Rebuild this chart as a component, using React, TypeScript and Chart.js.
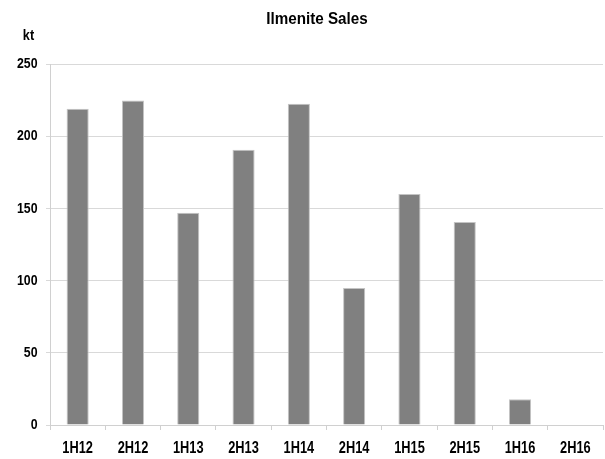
import React, { useEffect, useRef } from "react";
import { Chart, registerables } from "chart.js";

Chart.register(...registerables);

const categories = ["1H12", "2H12", "1H13", "2H13", "1H14", "2H14", "1H15", "2H15", "1H16", "2H16"];
const sales = [219, 224.7, 147, 190.7, 222.4, 94.8, 160, 140.6, 17.8, 0];
const yTicks = [0, 50, 100, 150, 200, 250];
const titleText = "Ilmenite Sales";
const unitText = "kt";

const FONT = "'Liberation Sans', Arial, sans-serif";

function condensed(ctx: any, text: string, x: number, y: number, size: number, sx: number, align: string, baseline: string) {
  ctx.save();
  ctx.translate(x, y);
  ctx.scale(sx, 1);
  ctx.font = `bold ${size}px ${FONT}`;
  ctx.textAlign = align;
  ctx.textBaseline = baseline;
  ctx.fillStyle = "#000";
  ctx.fillText(text, 0, 0);
  ctx.restore();
}

const textPlugin = {
  id: "customText",
  afterDraw(chart: any) {
    const ctx = chart.ctx;
    const xs = chart.scales.x;
    const ys = chart.scales.y;
    condensed(ctx, titleText, 317, 23.5, 16, 0.95, "center", "alphabetic");
    condensed(ctx, unitText, 28.5, 40, 15, 0.85, "center", "alphabetic");
    yTicks.forEach((v) => {
      condensed(ctx, String(v), 37.5, ys.getPixelForValue(v), 15, 0.82, "right", "middle");
    });
    categories.forEach((c, i) => {
      condensed(ctx, c, xs.getPixelForValue(i), 452.7, 16, 0.8, "center", "alphabetic");
    });
  },
};

export default function App() {
  const ref = useRef<HTMLCanvasElement | null>(null);
  useEffect(() => {
    document.body.style.margin = "0";
    const chart = new Chart(ref.current!, {
      type: "bar",
      data: {
        labels: categories,
        datasets: [
          {
            data: sales,
            backgroundColor: "#808080",
            borderColor: "#c4c4c4",
            borderWidth: 1,
            categoryPercentage: 1,
            barPercentage: 0.4,
          },
        ],
      },
      options: {
        animation: false,
        responsive: false,
        maintainAspectRatio: false,
        layout: { padding: { top: 64, right: 2, left: 0, bottom: 0 } },
        plugins: { legend: { display: false }, title: { display: false }, tooltip: { enabled: false } },
        scales: {
          x: {
            grid: { display: true, drawOnChartArea: false, offset: true, tickLength: 5, color: "#d0d0d0" },
            border: { color: "#d0d0d0" },
            ticks: { color: "rgba(0,0,0,0)", font: { family: FONT, size: 16, weight: "bold" }, padding: 6, maxRotation: 0 },
            afterFit: (s: any) => { s.height = 34; },
          },
          y: {
            min: 0,
            max: 250,
            afterBuildTicks: (s: any) => { s.ticks = yTicks.map((v) => ({ value: v })); },
            grid: { color: "#d9d9d9", tickLength: 4 },
            border: { color: "#d0d0d0" },
            ticks: { color: "rgba(0,0,0,0)", font: { family: FONT, size: 15, weight: "bold" }, padding: 9 },
            afterFit: (s: any) => { s.width = 50; },
          },
        },
      },
      plugins: [textPlugin],
    });
    return () => chart.destroy();
  }, []);
  return (
    <div style={{ position: "absolute", left: 0, top: 0, width: 605, height: 459 }}>
      <canvas ref={ref} width={605} height={459} style={{ width: 605, height: 459 }} />
    </div>
  );
}
